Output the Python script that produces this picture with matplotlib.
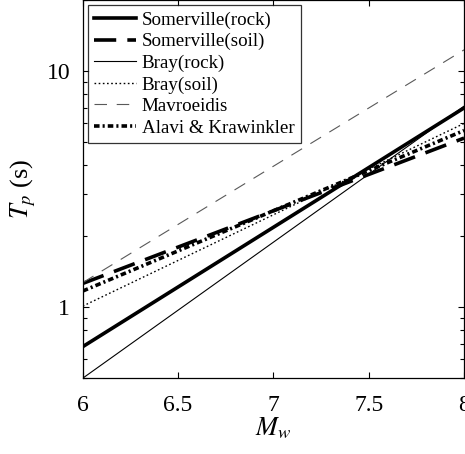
import matplotlib
matplotlib.use("Agg")
import matplotlib.pyplot as plt
import numpy as np

plt.rcParams['font.family'] = ['Liberation Serif', 'DejaVu Serif']
plt.rcParams['mathtext.fontset'] = 'stix'
plt.rcParams['lines.scale_dashes'] = False

# Magnitude range and period at each end
mw = [6.0, 8.0]
somerville_rock = [0.68, 6.98]
somerville_soil = [1.26, 5.2]
bray_rock = [0.50, 7.1]
bray_soil = [1.01, 6.0]
mavroeidis = [1.27, 12.3]
alavi_krawinkler = [1.17, 5.6]

labels = ["Somerville(rock)", "Somerville(soil)", "Bray(rock)", "Bray(soil)",
          "Mavroeidis", "Alavi & Krawinkler"]

fig = plt.figure(figsize=(4.65, 4.54), dpi=100)
ax = fig.add_axes([0.178, 0.167, 0.820, 0.833])

ax.plot(mw, somerville_rock, color='k', lw=2.6, label=labels[0])
ax.plot(mw, somerville_soil, color='k', lw=2.6, dashes=(16, 8), label=labels[1])
ax.plot(mw, bray_rock, color='k', lw=0.8, label=labels[2])
ax.plot(mw, bray_soil, color='k', lw=1.0, dashes=(1.2, 1.8), label=labels[3])
ax.plot(mw, mavroeidis, color='0.35', lw=0.8, dashes=(9, 7), label=labels[4])
ax.plot(mw, alavi_krawinkler, color='k', lw=2.6, dashes=(4, 2.2, 1.5, 2.2), label=labels[5])

ax.set_yscale('log')
ax.set_xlim(6, 8)
ax.set_ylim(0.5, 20)
ax.set_xticks([6, 6.5, 7, 7.5, 8])
ax.set_xticklabels(['6', '6.5', '7', '7.5', '8'])
ax.set_yticks([1, 10])
ax.set_yticklabels(['1', '10'])
ax.yaxis.set_minor_formatter(matplotlib.ticker.NullFormatter())
ax.tick_params(which='both', direction='in', top=True, right=True, labelsize=17, width=0.8)
ax.tick_params(which='major', length=4)
ax.tick_params(which='minor', length=3)
ax.tick_params(axis='x', pad=12)
ax.tick_params(axis='y', pad=9)
for s in ax.spines.values():
    s.set_linewidth(0.9)

ax.set_xlabel('$M_w$', fontsize=19, labelpad=0)
ax.set_ylabel('$T_p$ (s)', fontsize=19, labelpad=6)

leg = ax.legend(loc='upper left', fontsize=13.7, handlelength=2.2, frameon=True,
                fancybox=False, edgecolor='k', borderaxespad=0.25,
                labelspacing=0.22, handletextpad=0.3, borderpad=0.35)
leg.get_frame().set_linewidth(0.9)

fig.savefig('out.png', dpi=100)
